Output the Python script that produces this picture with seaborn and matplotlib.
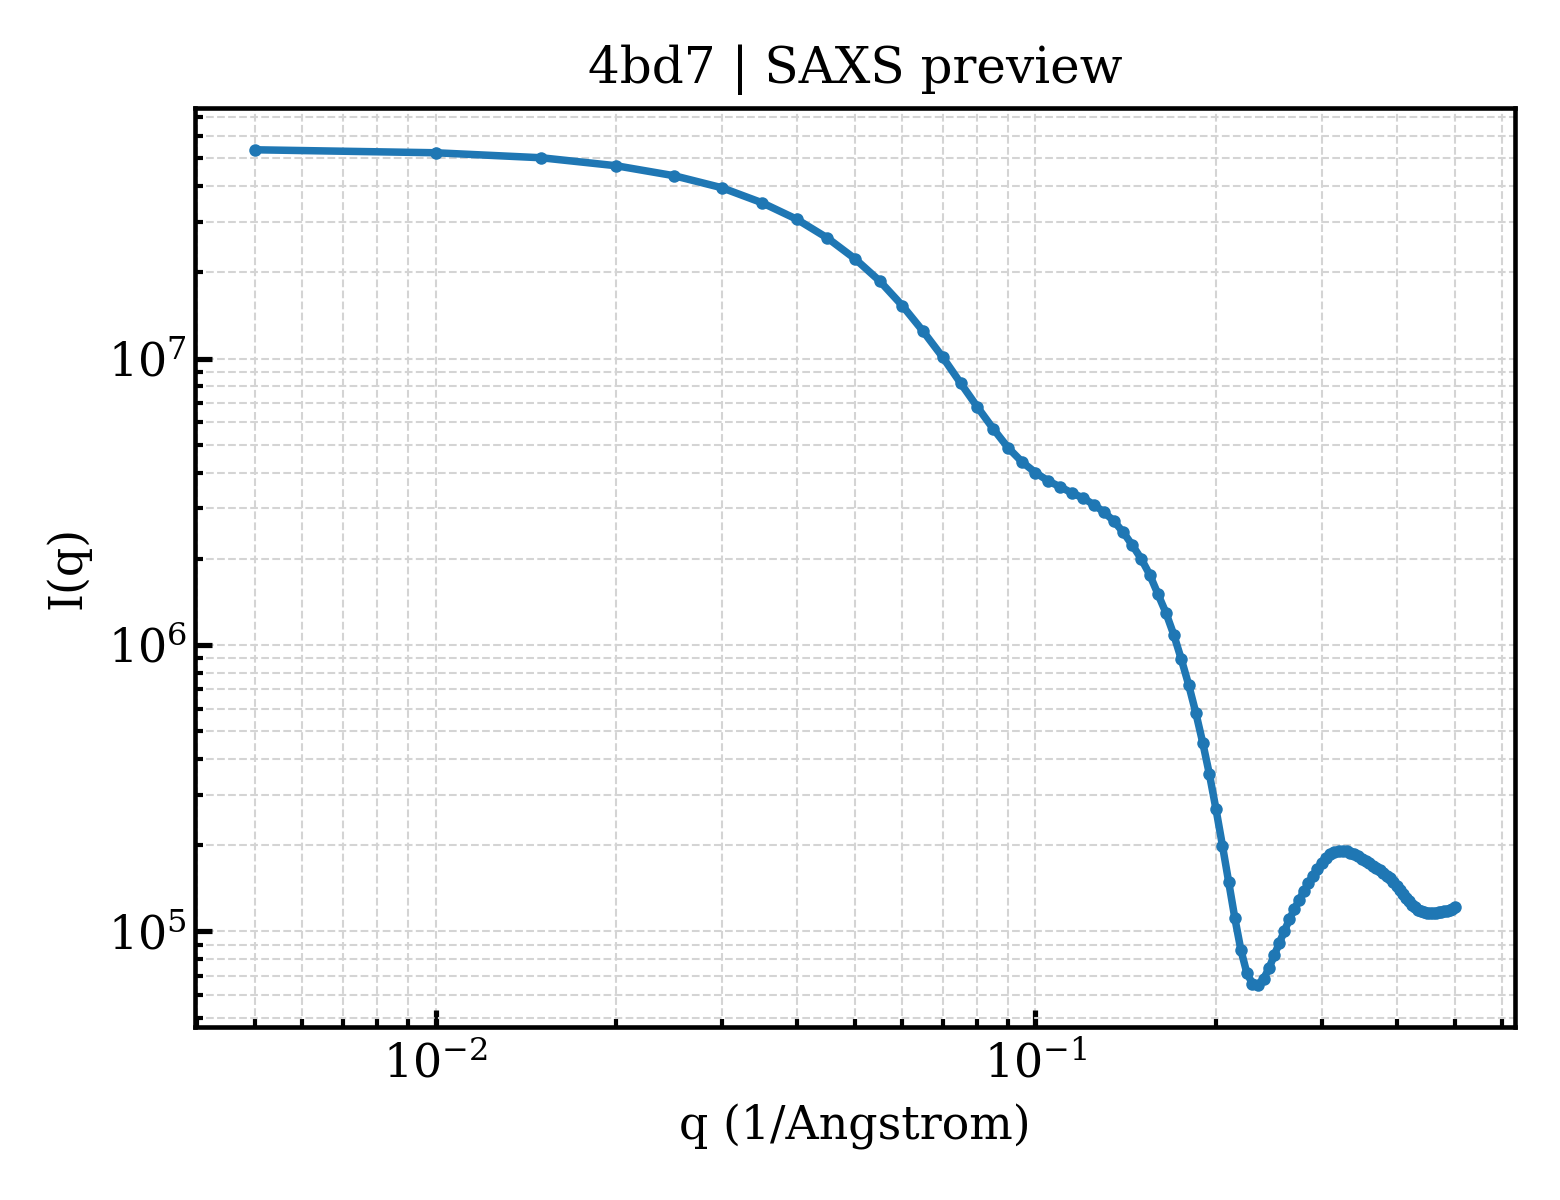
import numpy as np
import pandas as pd
import seaborn as sns
import matplotlib
matplotlib.use("Agg")
import matplotlib.pyplot as plt

# q grid (1/Angstrom)
q = [0.005, 0.010, 0.015, 0.020, 0.025, 0.030, 0.035, 0.040, 0.045, 0.050,
     0.055, 0.060, 0.065, 0.070, 0.075, 0.080, 0.085, 0.090, 0.095, 0.100,
     0.105, 0.110, 0.115, 0.120, 0.125, 0.130, 0.135, 0.140, 0.145, 0.150,
     0.155, 0.160, 0.165, 0.170, 0.175, 0.180, 0.185, 0.190, 0.195, 0.200,
     0.205, 0.210, 0.215, 0.220, 0.225, 0.230, 0.235, 0.240, 0.245, 0.250,
     0.255, 0.260, 0.265, 0.270, 0.275, 0.280, 0.285, 0.290, 0.295, 0.300,
     0.305, 0.310, 0.315, 0.320, 0.325, 0.330, 0.335, 0.340, 0.345, 0.350,
     0.355, 0.360, 0.365, 0.370, 0.375, 0.380, 0.385, 0.390, 0.395, 0.400,
     0.405, 0.410, 0.415, 0.420, 0.425, 0.430, 0.435, 0.440, 0.445, 0.450,
     0.455, 0.460, 0.465, 0.470, 0.475, 0.480, 0.485, 0.490, 0.495, 0.500]

# intensity
intensity = [5.363e7, 5.236e7, 5.030e7, 4.717e7, 4.352e7, 3.953e7, 3.504e7, 3.068e7, 2.638e7, 2.234e7,
             1.867e7, 1.531e7, 1.245e7, 1.014e7, 8.226e6, 6.784e6, 5.698e6, 4.891e6, 4.359e6, 4.001e6,
             3.742e6, 3.566e6, 3.398e6, 3.265e6, 3.093e6, 2.917e6, 2.713e6, 2.480e6, 2.234e6, 2.004e6,
             1.763e6, 1.507e6, 1.296e6, 1.088e6, 8.935e5, 7.279e5, 5.813e5, 4.567e5, 3.532e5, 2.666e5,
             1.990e5, 1.483e5, 1.110e5, 8.618e4, 7.181e4, 6.559e4, 6.479e4, 6.827e4, 7.427e4, 8.246e4,
             9.118e4, 1.004e5, 1.101e5, 1.193e5, 1.286e5, 1.379e5, 1.471e5, 1.562e5, 1.653e5, 1.734e5,
             1.805e5, 1.864e5, 1.898e5, 1.910e5, 1.913e5, 1.902e5, 1.882e5, 1.857e5, 1.827e5, 1.791e5,
             1.760e5, 1.727e5, 1.696e5, 1.666e5, 1.635e5, 1.600e5, 1.564e5, 1.531e5, 1.489e5, 1.441e5,
             1.396e5, 1.352e5, 1.309e5, 1.273e5, 1.239e5, 1.213e5, 1.191e5, 1.176e5, 1.167e5, 1.162e5,
             1.160e5, 1.160e5, 1.162e5, 1.165e5, 1.170e5, 1.175e5, 1.182e5, 1.191e5, 1.201e5, 1.215e5]

df = pd.DataFrame({"q": q, "I": intensity})

sns.set_theme(style="ticks")
plt.rcParams.update({
    "font.family": ["DejaVu Serif"],
    "font.size": 11,
    "axes.titlesize": 12,
    "axes.labelsize": 11,
    "xtick.labelsize": 11,
    "ytick.labelsize": 11,
    "text.color": "black",
    "axes.labelcolor": "black",
    "xtick.direction": "in",
    "ytick.direction": "in",
    "xtick.minor.visible": True,
    "ytick.minor.visible": True,
    "xtick.major.size": 4,
    "ytick.major.size": 4,
    "xtick.minor.size": 2,
    "ytick.minor.size": 2,
    "ytick.major.pad": 2,
    "axes.linewidth": 1.1,
    "axes.edgecolor": "black",
    "xtick.color": "black",
    "ytick.color": "black",
})

fig, ax = plt.subplots(figsize=(5.2, 4), dpi=300)
sns.lineplot(data=df, x="q", y="I", ax=ax, color="#1f77b4", linewidth=1.8,
             marker="o", markersize=3, markeredgewidth=0, estimator=None)
ax.set_xscale("log")
ax.set_yscale("log")
ax.grid(True, which="both", linestyle="--", linewidth=0.5, color="#d4d4d4")
ax.set_title("4bd7 | SAXS preview")
ax.set_xlabel("q (1/Angstrom)")
ax.set_ylabel("I(q)")
fig.subplots_adjust(left=0.125, right=0.971, top=0.91, bottom=0.144)
fig.savefig("out.png", dpi=300)
